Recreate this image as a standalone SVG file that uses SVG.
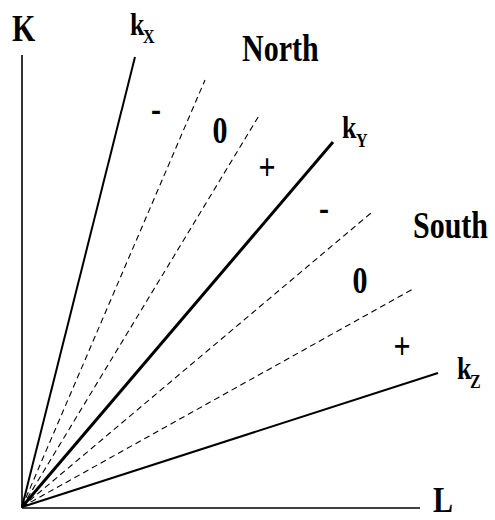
<svg xmlns="http://www.w3.org/2000/svg" width="495" height="520" viewBox="0 0 495 520">
<style>
.t{font-family:"Liberation Serif","Times New Roman",serif;font-weight:bold;font-size:30px;fill:#000}
.k{font-size:26px}
.s{font-size:16px}
.m{text-anchor:middle}
.ax{stroke:#000;stroke-width:1.6;fill:none}
.ray{stroke:#000;stroke-width:2;fill:none}
.thick{stroke:#000;stroke-width:3;fill:none}
.dash{stroke:#000;stroke-width:1.1;stroke-dasharray:6 4;fill:none}
</style>
<rect width="495" height="520" fill="#fff"/>
<g id="connectors">
<line class="ax" x1="22" y1="55" x2="22" y2="508"/>
<line class="ax" x1="22" y1="508" x2="420" y2="508"/>
<line class="ray" x1="22" y1="507" x2="135" y2="57"/>
<line class="dash" x1="22" y1="507" x2="205" y2="80"/>
<line class="dash" x1="22" y1="507" x2="260" y2="114"/>
<line class="thick" x1="22" y1="507" x2="333" y2="142"/>
<line class="dash" x1="22" y1="507" x2="371" y2="213"/>
<line class="dash" x1="22" y1="507" x2="413" y2="289"/>
<line class="ray" x1="22" y1="507" x2="438" y2="373"/>
</g>
<g id="axis-K"><text class="t" transform="translate(12,41) scale(1,1.25)">K</text></g>
<g id="axis-L"><text class="t" transform="translate(433,512) scale(1,1.2)">L</text></g>
<g id="kX"><text class="t k" transform="translate(130,35) scale(1,1.25)">k</text><text class="t s" transform="translate(143,43) scale(1,1.2)">X</text></g>
<g id="kY"><text class="t k" transform="translate(342,138) scale(1,1.25)">k</text><text class="t s" transform="translate(356,147) scale(1,1.2)">Y</text></g>
<g id="kZ"><text class="t k" transform="translate(457,379) scale(1,1.25)">k</text><text class="t s" transform="translate(470,388) scale(1,1.2)">Z</text></g>
<g id="north"><text class="t" transform="translate(242,61) scale(1,1.25)">North</text></g>
<g id="south"><text class="t" transform="translate(413,238) scale(1,1.25)">South</text></g>
<g id="north-minus"><text class="t m" transform="translate(156,121) scale(1,1.25)">-</text></g>
<g id="north-zero"><text class="t m" transform="translate(220,143) scale(1,1.25)">0</text></g>
<g id="north-plus"><text class="t m" transform="translate(267,180) scale(1,1.25)">+</text></g>
<g id="south-minus"><text class="t m" transform="translate(324,220) scale(1,1.25)">-</text></g>
<g id="south-zero"><text class="t m" transform="translate(360,293) scale(1,1.25)">0</text></g>
<g id="south-plus"><text class="t m" transform="translate(402,359) scale(1,1.25)">+</text></g>
</svg>
